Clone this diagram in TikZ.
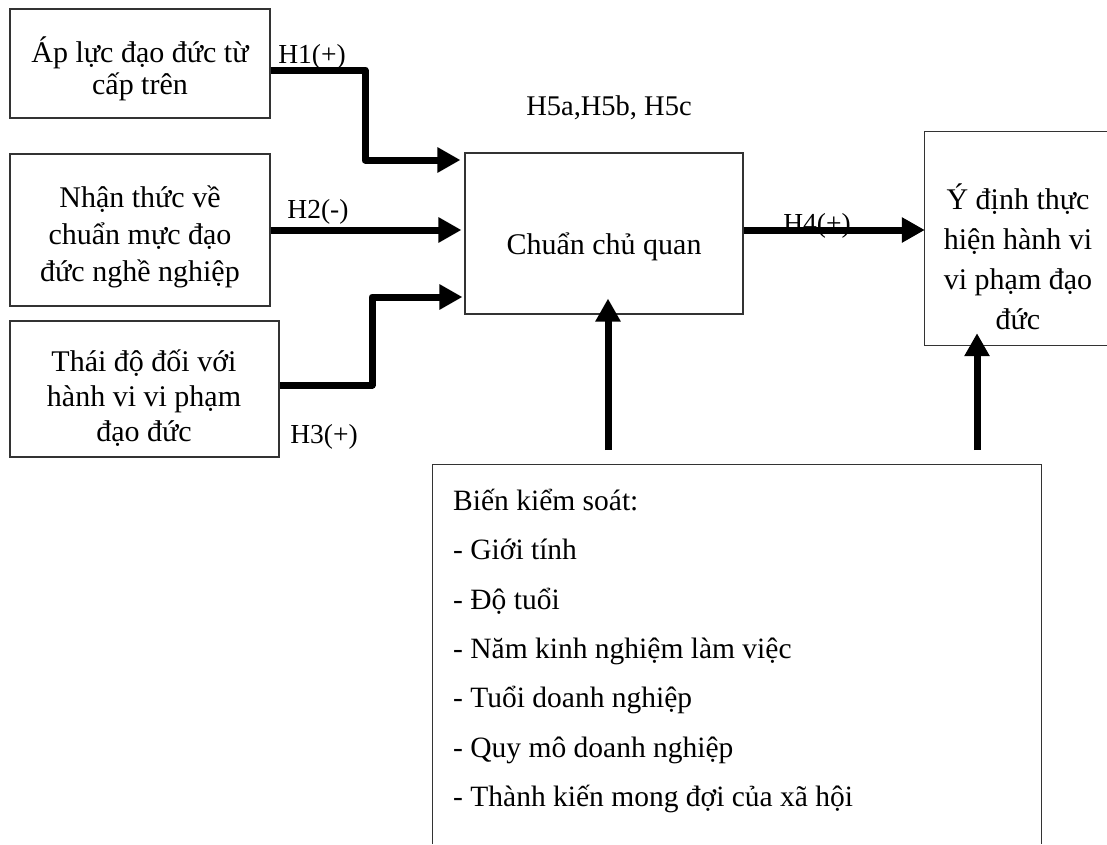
\documentclass[tikz,border=0pt]{standalone}
\usepackage{fontspec}
\setmainfont{Liberation Serif}
\usetikzlibrary{arrows.meta}
\tikzset{
  box/.style={draw=black!80, line width=1.1pt, inner sep=0pt},
  openbox/.style={draw=none, inner sep=0pt},
  side/.style={draw=black!80, line width=1.1pt},
  txt/.style={align=center, inner sep=0pt},
  lbl/.style={inner sep=0pt, font=\fontsize{27.5}{30}\selectfont},
  arr/.style={line width=7pt, line join=round, -{Triangle[length=23pt,width=24pt]}}
}
\begin{document}
\begin{tikzpicture}[x=1pt,y=-1pt]
\useasboundingbox (0,0) rectangle (1107,844);
% boxes
\node[box, minimum width=260pt, minimum height=109pt] (b1) at (140,63.5) {};
\node[box, minimum width=260pt, minimum height=152pt] (b2) at (140,230) {};
\node[box, minimum width=269pt, minimum height=136pt] (b3) at (144.5,389) {};
\node[box, minimum width=278pt, minimum height=161pt] (cc) at (604,233.5) {};
\node[openbox, minimum width=182pt, minimum height=213pt] (yd) at (1016,238.5) {};
\draw[side] (yd.north east) -- (yd.north west) -- (yd.south west) -- (yd.south east);
\node[openbox, minimum width=608pt, minimum height=379pt] (bk) at (737,654.5) {};
\draw[side] (bk.south west) -- (bk.north west) -- (bk.north east) -- (bk.south east);
% texts
\node[txt, font=\fontsize{30}{32}\selectfont] (t1) at (140,69) {Áp lực đạo đức từ\\cấp trên};
\node[txt, font=\fontsize{30}{37}\selectfont] (t2) at (140,237) {Nhận thức về\\chuẩn mực đạo\\đức nghề nghiệp};
\node[txt, font=\fontsize{30}{35}\selectfont] (t3) at (144,398) {Thái độ đối với\\hành vi vi phạm\\đạo đức};
\node[txt, font=\fontsize{30}{34}\selectfont] (tc) at (604,247) {Chuẩn chủ quan};
\node[txt, font=\fontsize{30}{40}\selectfont] (ty) at (1018,257) {Ý định thực\\hiện hành vi\\vi phạm đạo\\đức};
\node[align=left, inner sep=0pt, anchor=west, font=\fontsize{29.5}{49.3}\selectfont] (tb) at (453,651)
  {Biến kiểm soát:\\- Giới tính\\- Độ tuổi\\- Năm kinh nghiệm làm việc\\- Tuổi doanh nghiệp\\- Quy mô doanh nghiệp\\- Thành kiến mong đợi của xã hội};
% labels
\node[lbl] (l1) at (312,57) {H1(+)};
\node[lbl] (l2) at (318,212) {H2(-)};
\node[lbl] (l3) at (324,437) {H3(+)};
\node[lbl] (l4) at (817,226) {H4(+)};
\node[lbl, font=\fontsize{28.5}{30}\selectfont] (l5) at (609,108) {H5a,H5b, H5c};
% connector corners
\coordinate (k1a) at (365,70);
\coordinate (k1b) at (365,160);
\coordinate (k3a) at (372,385);
\coordinate (k3b) at (372,297);
\coordinate (s1) at (608,450);
\coordinate (s2) at (977,450);
% connectors
\draw[arr] (b1.east |- k1a) -- (k1a) -- (k1b) -- ([xshift=-4pt]cc.west |- k1b);
\draw[arr] (b2.east) -- ([xshift=-3pt]cc.west |- b2.east);
\draw[arr] (b3.east |- k3a) -- (k3a) -- (k3b) -- ([xshift=-2pt]cc.west |- k3b);
\draw[arr] (cc.east |- b2.east) -- (yd.west |- b2.east);
\draw[arr, shorten >=-16pt] (s1) -- (s1 |- cc.south);
\draw[arr, shorten >=-12pt] (s2) -- (s2 |- yd.south);
\end{tikzpicture}
\end{document}
